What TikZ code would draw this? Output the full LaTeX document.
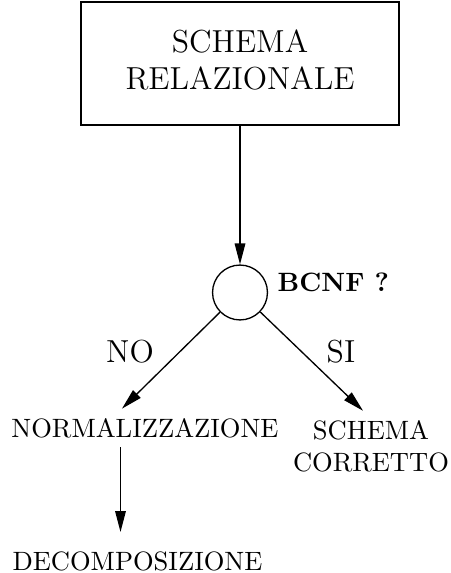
\documentclass[tikz,border=0pt]{standalone}
\usetikzlibrary{arrows.meta}
\tikzset{
  arr/.style={-{Triangle[length=7.9pt,width=4pt]}},
  boxnode/.style={draw, align=center, font=\large, minimum width=119.9pt, minimum height=46.4pt, text depth=2.6pt},
  testnode/.style={draw, circle, minimum size=20.7pt, inner sep=0pt},
  txt/.style={align=center},
}
\begin{document}
\begin{tikzpicture}[x=0.377pt, y=-0.377pt, line width=0.5pt]
\useasboundingbox (0,0) rectangle (450,573);
\node[boxnode] (schema) at (240,63.5) {SCHEMA\\RELAZIONALE};
\node[testnode] (bcnf) at (240,292.5) {};
\node[anchor=west, inner sep=0pt, font=\bfseries] (quest) at (277,282) {BCNF ?};
\node[txt] (norm) at (145,428) {NORMALIZZAZIONE};
\node[txt] (corr) at (371,446) {SCHEMA\\CORRETTO};
\node[txt] (dec) at (137.5,561) {DECOMPOSIZIONE};
\node[font=\large] (no) at (130,352) {NO};
\node[font=\large] (si) at (341,352) {SI};
% connectors
\coordinate (dtip) at (120.5,532);
\draw[arr] (schema) -- (bcnf);
\draw[arr] (bcnf) -- ([xshift=-8.7pt]norm.north);
\draw[arr] (bcnf) -- ([xshift=-3pt]corr.north);
\draw[arr] (norm.south -| dtip) -- (dtip);
\end{tikzpicture}
\end{document}
